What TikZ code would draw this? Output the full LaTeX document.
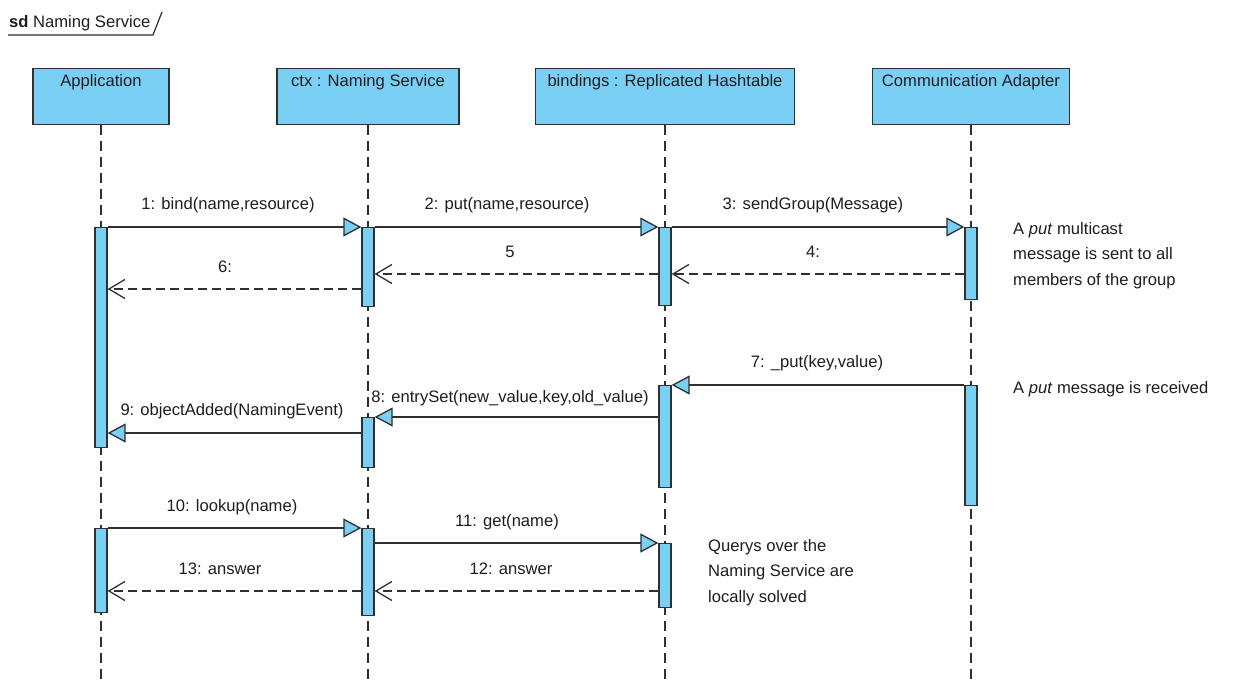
\documentclass[tikz,border=0pt]{standalone}
\usepackage{fontspec}
\setmainfont{Liberation Sans}
\usetikzlibrary{arrows.meta}
\definecolor{umlfill}{RGB}{122,207,245}
\definecolor{umlline}{RGB}{48,48,48}
\definecolor{umltext}{RGB}{30,30,30}

\begin{document}
\begin{tikzpicture}[x=1pt,y=-1pt,
  every node/.style={font=\fontsize{16.6}{19}\selectfont, text=umltext},
  header/.style={draw=umlline, fill=umlfill, line width=1.3pt, minimum height=56pt, inner sep=0pt, anchor=north},
  headtext/.style={anchor=base, inner sep=0pt},
  lifeline/.style={draw=umlline, line width=1.2pt, dash pattern=on 10pt off 6pt},
  actbar/.style={draw=umlline, fill=umlfill, line width=1.3pt, minimum width=12pt, inner sep=0pt, anchor=north},
  call/.style={draw=umlline, line width=1.3pt, -{Triangle[length=18pt,width=19pt,fill=umlfill]}},
  reply/.style={draw=umlline, line width=1.3pt, dash pattern=on 9pt off 5pt, -{Straight Barb[length=16pt,width=19pt]}},
  msglabel/.style={inner sep=0pt, anchor=base},
  note/.style={inner sep=0pt, align=left, anchor=north west, font=\fontsize{16.6}{25.5}\selectfont}]

\useasboundingbox[fill=white] (0,0) rectangle (1240,684);

% diagram frame tab
\node[anchor=base west, inner sep=0pt] (sdlabel) at (9,28) {\textbf{sd} Naming Service};
\draw[umlline, line width=1.2pt] (8,35) -- (153,35) -- (162,12);

% lifeline heads
\node[header, minimum width=136pt] (hA) at (101,68) {};
\node[header, minimum width=182pt] (hC) at (368,68) {};
\node[header, minimum width=259pt] (hB) at (665,68) {};
\node[header, minimum width=197pt] (hM) at (971,68) {};
\node[headtext] (tA) at (hA.north |- 0,87) {Application};
\node[headtext] (tC) at (hC.north |- 0,87) {ctx : Naming Service};
\node[headtext] (tB) at (hB.north |- 0,87) {bindings : Replicated Hashtable};
\node[headtext] (tM) at (hM.north |- 0,87) {Communication Adapter};

% lifelines
\coordinate (eA) at (hA.south |- 0,684);
\coordinate (eC) at (hC.south |- 0,684);
\coordinate (eB) at (hB.south |- 0,684);
\coordinate (eM) at (hM.south |- 0,684);
\draw[lifeline] (hA.south) -- (eA);
\draw[lifeline] (hC.south) -- (eC);
\draw[lifeline] (hB.south) -- (eB);
\draw[lifeline] (hM.south) -- (eM);

% activation bars
\node[actbar, minimum height=220pt] (a1) at (hA.south |- 0,227) {};
\node[actbar, minimum height=79pt]  (c1) at (hC.south |- 0,227) {};
\node[actbar, minimum height=78pt]  (b1) at (hB.south |- 0,227) {};
\node[actbar, minimum height=72pt]  (m1) at (hM.south |- 0,227) {};
\node[actbar, minimum height=120pt] (m2) at (hM.south |- 0,385) {};
\node[actbar, minimum height=102pt] (b2) at (hB.south |- 0,385) {};
\node[actbar, minimum height=50pt]  (c2) at (hC.south |- 0,417) {};
\node[actbar, minimum height=84pt]  (a2) at (hA.south |- 0,528) {};
\node[actbar, minimum height=87pt]  (c3) at (hC.south |- 0,528) {};
\node[actbar, minimum height=64pt]  (b3) at (hB.south |- 0,543) {};

% messages
\draw[call]  (a1.east |- 0,227) -- (c1.west |- 0,227);
\draw[call]  (c1.east |- 0,227) -- (b1.west |- 0,227);
\draw[call]  (b1.east |- 0,227) -- (m1.west |- 0,227);
\draw[reply] (m1.west |- 0,274) -- (b1.east |- 0,274);
\draw[reply] (b1.west |- 0,274) -- (c1.east |- 0,274);
\draw[reply] (c1.west |- 0,289) -- (a1.east |- 0,289);
\draw[call]  (m2.west |- 0,385) -- (b2.east |- 0,385);
\draw[call]  (b2.west |- 0,417) -- (c2.east |- 0,417);
\draw[call]  (c2.west |- 0,433) -- (a1.east |- 0,433);
\draw[call]  (a2.east |- 0,528) -- (c3.west |- 0,528);
\draw[call]  (c3.east |- 0,543) -- (b3.west |- 0,543);
\draw[reply] (b3.west |- 0,591) -- (c3.east |- 0,591);
\draw[reply] (c3.west |- 0,591) -- (a2.east |- 0,591);

% message labels
\node[msglabel] (l1)  at (228,210) {1: bind(name,resource)};
\node[msglabel] (l2)  at (507,210) {2: put(name,resource)};
\node[msglabel] (l3)  at (813,210) {3: sendGroup(Message)};
\node[msglabel] (l4)  at (813,258) {4:};
\node[msglabel] (l5)  at (510,258) {5};
\node[msglabel] (l6)  at (225,273) {6:};
\node[msglabel] (l7)  at (817,368) {7: \_put(key,value)};
\node[msglabel] (l8)  at (510,403) {8: entrySet(new\_value,key,old\_value)};
\node[msglabel] (l9)  at (232,416) {9: objectAdded(NamingEvent)};
\node[msglabel] (l10) at (232,511) {10: lookup(name)};
\node[msglabel] (l11) at (507,526) {11: get(name)};
\node[msglabel] (l12) at (511,574) {12: answer};
\node[msglabel] (l13) at (220,574) {13: answer};

% notes
\node[note] (n1) at (1013,222) {A \emph{put} multicast\\message is sent to all\\members of the group};
\node[note] (n2) at (1013,381) {A \emph{put} message is received};
\node[note] (n3) at (708,539) {Querys over the\\Naming Service are\\locally solved};

\end{tikzpicture}
\end{document}
